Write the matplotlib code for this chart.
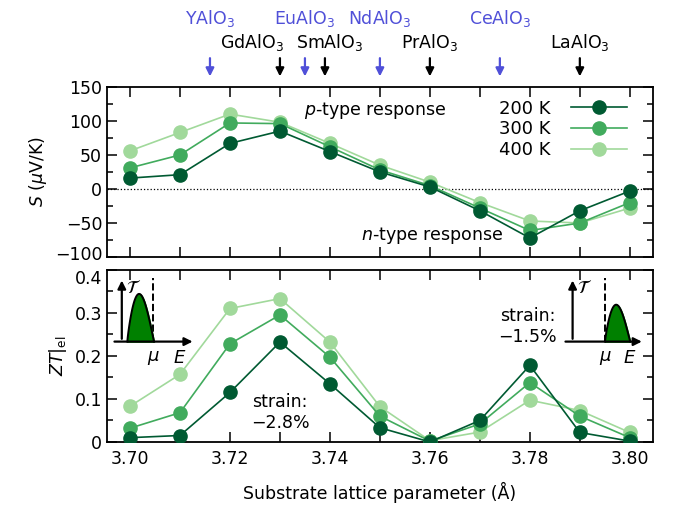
import matplotlib
matplotlib.use('Agg')
import matplotlib.pyplot as plt
import numpy as np
from matplotlib.ticker import MultipleLocator, FuncFormatter
from matplotlib.transforms import ScaledTranslation

plt.rcParams['font.family'] = ['DejaVu Sans']
plt.rcParams['mathtext.fontset'] = 'dejavusans'
plt.rcParams['font.size'] = 12.5

# ---- data ----
lattice = [3.70, 3.71, 3.72, 3.73, 3.74, 3.75, 3.76, 3.77, 3.78, 3.79, 3.80]
temps = ['200 K', '300 K', '400 K']

S_200 = [16, 21, 67, 85, 55, 25, 3, -32, -72, -32, -3]
S_300 = [31, 50, 97, 96, 62, 28, 5, -28, -61, -50, -20]
S_400 = [56, 83, 110, 98, 67, 35, 10, -20, -47, -50, -28]

ZT_200 = [0.010, 0.015, 0.115, 0.232, 0.135, 0.033, 0.000, 0.050, 0.178, 0.022, 0.002]
ZT_300 = [0.032, 0.068, 0.228, 0.295, 0.197, 0.060, 0.002, 0.042, 0.138, 0.060, 0.010]
ZT_400 = [0.083, 0.157, 0.310, 0.333, 0.232, 0.082, 0.003, 0.023, 0.097, 0.073, 0.022]

# substrates shown with arrows above the plot
sub_blue = ['YAlO$_3$', 'EuAlO$_3$', 'NdAlO$_3$', 'CeAlO$_3$']
sub_blue_a = [3.716, 3.735, 3.750, 3.774]
sub_black = ['GdAlO$_3$', 'SmAlO$_3$', 'PrAlO$_3$', 'LaAlO$_3$']
sub_black_a = [3.730, 3.739, 3.760, 3.790]

colors = ['#005a32', '#41ab5d', '#a1d99b']
blue = '#5050d8'

fig = plt.figure(figsize=(6.73, 5.08), dpi=100)
ax1 = fig.add_axes([0.159, 0.494, 0.811, 0.335])
ax2 = fig.add_axes([0.159, 0.130, 0.811, 0.339])

S_all = [S_200, S_300, S_400]
ZT_all = [ZT_200, ZT_300, ZT_400]

# light first so the dark curve ends up on top
lines = []
for i in [2, 1, 0]:
    l, = ax1.plot(lattice, S_all[i], '-o', color=colors[i], ms=9.5, lw=1.2,
                  label=temps[i], zorder=3 + (2 - i))
    ax2.plot(lattice, ZT_all[i], '-o', color=colors[i], ms=9.5, lw=1.2,
             zorder=3 + (2 - i))
    lines.append(l)
lines = lines[::-1]

ax1.axhline(0, color='k', ls=':', lw=0.9, zorder=1)

for ax in (ax1, ax2):
    ax.set_xlim(3.6954, 3.8046)
    ax.xaxis.set_major_locator(MultipleLocator(0.02))
    ax.xaxis.set_minor_locator(MultipleLocator(0.01))
    ax.tick_params(which='both', direction='in', top=True, right=True, width=1.1)
    ax.tick_params(axis='x', which='both', length=7, pad=6)
    ax.tick_params(axis='y', which='major', length=7)
    ax.tick_params(axis='y', which='minor', length=4)
    for s in ax.spines.values():
        s.set_linewidth(1.3)

ax1.set_ylim(-100, 150)
ax1.yaxis.set_major_locator(MultipleLocator(50))
ax1.yaxis.set_minor_locator(MultipleLocator(25))
ax1.set_xticklabels([])
ax1.set_ylabel(r'$S$ ($\mu$V/K)')

ax2.set_ylim(0, 0.4)
ax2.yaxis.set_major_locator(MultipleLocator(0.1))
ax2.yaxis.set_minor_locator(MultipleLocator(0.05))
ax2.yaxis.set_major_formatter(FuncFormatter(lambda v, p: '0' if abs(v) < 1e-9 else '%.1f' % v))
ax2.set_ylabel(r'$ZT|_{\rm el}$')
ax2.set_xlabel('Substrate lattice parameter (Å)', labelpad=10)

ax1.legend(handles=lines, loc='upper right', bbox_to_anchor=(0.975, 1.0), frameon=False,
           markerfirst=False, handlelength=3.1, handletextpad=1.1, borderaxespad=0.3,
           labelspacing=0.15, fontsize=13)

ax1.text(3.749, 115, '$p$-type response', ha='center', va='center')
ax1.text(3.7604, -69, '$n$-type response', ha='center', va='center')
ax2.text(3.730, 0.068, 'strain:\n\u22122.8%', ha='center', va='center', linespacing=1.2)
ax2.text(3.7796, 0.269, 'strain:\n\u22121.5%', ha='center', va='center', linespacing=1.2)

# arrows and substrate names above the top panel
arrow_kw = dict(arrowstyle='-|>', lw=1.6, mutation_scale=12)
for name, a in zip(sub_blue, sub_blue_a):
    ax1.annotate('', xy=(a, 1.045), xytext=(a, 1.185), xycoords=('data', 'axes fraction'),
                 arrowprops=dict(color=blue, **arrow_kw))
    ax1.text(a, 1.40, name, color=blue, ha='center', va='center',
             transform=ax1.get_xaxis_transform())
black_shift = [-0.0057, 0.0009, 0.0, 0.0]
for name, a, dx in zip(sub_black, sub_black_a, black_shift):
    ax1.annotate('', xy=(a, 1.045), xytext=(a, 1.185), xycoords=('data', 'axes fraction'),
                 arrowprops=dict(color='k', **arrow_kw))
    ax1.text(a + dx, 1.26, name, color='k', ha='center', va='center',
             transform=ax1.get_xaxis_transform())


def schematic(rect, vx, hx0, hx1, mu, b0, b1, peak):
    # little transmission-vs-energy sketch
    ia = fig.add_axes(rect)
    ia.set_xlim(0, 1)
    ia.set_ylim(0, 1)
    ia.axis('off')
    base = 0.26
    ia.annotate('', xy=(vx, 0.97), xytext=(vx, base),
                arrowprops=dict(arrowstyle='-|>', color='k', lw=1.6, mutation_scale=12))
    ia.annotate('', xy=(hx1, base), xytext=(hx0, base),
                arrowprops=dict(arrowstyle='-|>', color='k', lw=1.6, mutation_scale=12))
    ia.plot([mu, mu], [base, 0.97], 'k--', lw=1.4)
    t = np.linspace(0, 1, 60)
    xs = b0 + (b1 - b0) * t
    ys = base + (peak - base) * np.sin(np.pi * t ** 0.85)
    ia.fill_between(xs, base, ys, color='#008000', zorder=2)
    ia.plot(xs, ys, 'k-', lw=1.4, zorder=3)
    ia.text(vx + 0.13, 0.86, r'$\mathcal{T}$', ha='center', va='center', fontsize=13)
    ia.text(mu, 0.08, r'$\mu$', ha='center', va='center', fontsize=13)
    ia.text(hx1 - 0.17, 0.08, r'$E$', ha='center', va='center', fontsize=13)
    return ia


schematic([108 / 673, 1 - 365 / 508, 92 / 673, 90 / 508], 0.15, 0.04, 0.95, 0.49, 0.21, 0.50, 0.79)
schematic([560 / 673, 1 - 365 / 508, 90 / 673, 90 / 508], 0.14, 0.03, 0.94, 0.50, 0.50, 0.78, 0.67)

# nudge the two end labels apart where the panels meet, like in the reference
fig.canvas.draw()
for lab in ax1.get_yticklabels():
    if lab.get_text().replace('\u2212', '-') == '-100':
        lab.set_transform(lab.get_transform() + ScaledTranslation(0, 3 / 72, fig.dpi_scale_trans))
for lab in ax2.get_yticklabels():
    if lab.get_text() == '0.4':
        lab.set_transform(lab.get_transform() + ScaledTranslation(0, -5 / 72, fig.dpi_scale_trans))

fig.savefig('out.png', dpi=100)
